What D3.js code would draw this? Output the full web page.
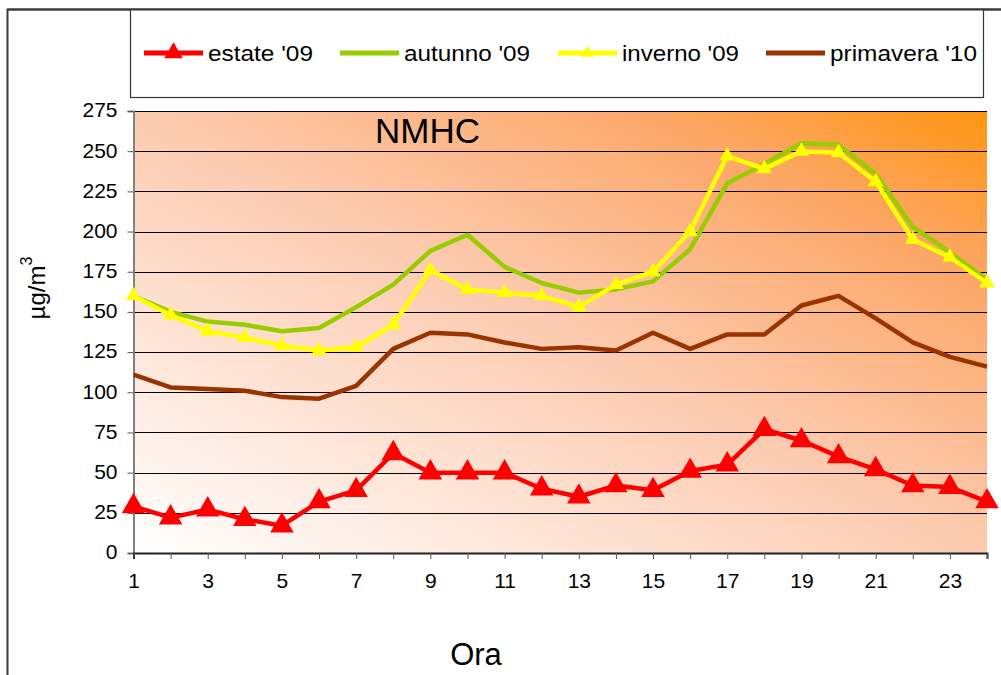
<!DOCTYPE html>
<html>
<head>
<meta charset="utf-8">
<script src="https://cdn.jsdelivr.net/npm/d3@7"></script>
<style>
  html, body { margin: 0; padding: 0; background: #ffffff; }
  svg { display: block; font-family: "Liberation Sans", Arial, sans-serif; }
</style>
</head>
<body>
<svg id="chart" width="1001" height="675"></svg>
<script>
// ---- data ----
const hours = [1,2,3,4,5,6,7,8,9,10,11,12,13,14,15,16,17,18,19,20,21,22,23,24];
const xTickLabels = [1,3,5,7,9,11,13,15,17,19,21,23];
const yTicks = [0,25,50,75,100,125,150,175,200,225,250,275];
const estate09 = [29,22,27,21,17,32,39,62,50,50,50,40,35,42,39,51,55,77,70,60,52,42,41,32];
const autunno09 = [160,150,144,142,138,140,153,167,188,198,178,168,162,164,169,189,230,242,255,254,236,203,187,170];
const inverno09 = [160,148,138,134,129,126,128,142,176,164,162,160,153,167,175,200,247,239,250,249,231,195,184,168];
const primavera10 = [111,103,102,101,97,96,104,127,137,136,131,127,128,126,137,127,136,136,154,160,146,131,122,116];
const seriesNames = ["estate '09", "autunno '09", "inverno '09", "primavera '10"];
const seriesColors = ["#ff0000", "#99cc00", "#ffff00", "#993300"];
const chartTitle = "NMHC";
const yTitle = "\u00b5g/m";
const xTitle = "Ora";

// ---- layout ----
const svg = d3.select("#chart");
const L = 133.5, R = 987, T = 111, B = 553;
const x = d3.scalePoint().domain(hours).range([L, R]);
const y = d3.scaleLinear().domain([0, 275]).range([B, T]);

// gradient background
const defs = svg.append("defs");
const grad = defs.append("linearGradient").attr("id", "bg")
  .attr("x1", 0).attr("y1", 1).attr("x2", 1).attr("y2", 0);
[[0, "#ffffff"], [0.5, "#fccbb0"], [0.8, "#fca768"], [1, "#ff9510"]].forEach(s =>
  grad.append("stop").attr("offset", s[0]).attr("stop-color", s[1]));

svg.append("rect").attr("x", L).attr("y", T).attr("width", R - L).attr("height", B - T)
  .attr("fill", "url(#bg)");

// outer frame (top + left)
svg.append("path").attr("d", "M7.5,675 L7.5,9.5 L1001,9.5")
  .attr("fill", "none").attr("stroke", "#3a3a3a").attr("stroke-width", 2);

// legend box
svg.append("rect").attr("x", 130.5).attr("y", 9.5).attr("width", 853).attr("height", 88)
  .attr("fill", "#ffffff").attr("stroke", "#333").attr("stroke-width", 1.2);
svg.append("line").attr("x1", 7.5).attr("x2", 1001).attr("y1", 9.5).attr("y2", 9.5)
  .attr("stroke", "#3a3a3a").attr("stroke-width", 2);

// gridlines
svg.append("g").selectAll("line").data(yTicks.filter(d => d > 0)).join("line")
  .attr("x1", L).attr("x2", R).attr("y1", d => Math.round(y(d)) + 0.5).attr("y2", d => Math.round(y(d)) + 0.5)
  .attr("stroke", "#000").attr("stroke-width", 1.2);

// y axis
const yAxis = svg.append("g").attr("transform", `translate(${L},0)`)
  .call(d3.axisLeft(y).tickValues(yTicks).tickSize(6).tickPadding(10));
yAxis.select(".domain").attr("stroke", "#808080").attr("stroke-width", 2);
yAxis.selectAll(".tick line").attr("stroke", "#555");
yAxis.selectAll(".tick text").attr("font-size", 21).attr("fill", "#000")
  .attr("font-family", "Liberation Sans, Arial, sans-serif").attr("dy", "0.28em");

// x axis
const xAxis = svg.append("g").attr("transform", `translate(0,${B})`)
  .call(d3.axisBottom(x).tickSize(6).tickPadding(14)
    .tickFormat(d => xTickLabels.includes(d) ? d : ""));
xAxis.select(".domain").attr("stroke", "#222").attr("stroke-width", 2);
xAxis.selectAll(".tick line").attr("stroke", "#555");
xAxis.selectAll(".tick text").attr("font-size", 21).attr("fill", "#000")
  .attr("font-family", "Liberation Sans, Arial, sans-serif");

// lines
const allSeries = [estate09, autunno09, inverno09, primavera10];
const line = d3.line().x((d, i) => x(hours[i])).y(d => y(d));
allSeries.forEach((vals, k) => {
  svg.append("path").datum(vals).attr("d", line)
    .attr("fill", "none").attr("stroke", seriesColors[k]).attr("stroke-width", 4.5)
    .attr("stroke-linejoin", "round");
  if (k === 0 || k === 2) {
    const size = k === 0 ? 240 : 105;
    svg.append("g").selectAll("path").data(vals).join("path")
      .attr("d", d3.symbol(d3.symbolTriangle, size))
      .attr("transform", (d, i) => `translate(${x(hours[i])},${y(d)})`)
      .attr("fill", seriesColors[k]);
  }
});

// title
svg.append("text").attr("x", 375).attr("y", 143).attr("font-size", 35).attr("fill", "#000")
  .text(chartTitle);

// axis titles
const yt = svg.append("text").attr("transform", "translate(45,288) rotate(-90)")
  .attr("text-anchor", "middle").attr("font-size", 24).attr("fill", "#000");
yt.append("tspan").text(yTitle);
yt.append("tspan").attr("font-size", 16).attr("dy", "-0.8em").text("3");

svg.append("text").attr("x", 476).attr("y", 665).attr("text-anchor", "middle")
  .attr("font-size", 31).attr("fill", "#000").text(xTitle);

// legend
const legX = [144, 340, 558, 766];
const legTextW = [105, 126, 117, 147];
const legY = 53;
seriesNames.forEach((name, k) => {
  svg.append("line").attr("x1", legX[k]).attr("x2", legX[k] + 59)
    .attr("y1", legY).attr("y2", legY)
    .attr("stroke", seriesColors[k]).attr("stroke-width", 5);
  if (k === 0 || k === 2) {
    svg.append("path").attr("d", d3.symbol(d3.symbolTriangle, k === 0 ? 150 : 70))
      .attr("transform", `translate(${legX[k] + 29.5},${legY})`)
      .attr("fill", seriesColors[k]);
  }
  svg.append("text").attr("x", legX[k] + 64).attr("y", legY + 8)
    .attr("font-size", 22).attr("fill", "#000")
    .attr("textLength", legTextW[k]).attr("lengthAdjust", "spacingAndGlyphs")
    .text(name);
});
</script>
</body>
</html>
